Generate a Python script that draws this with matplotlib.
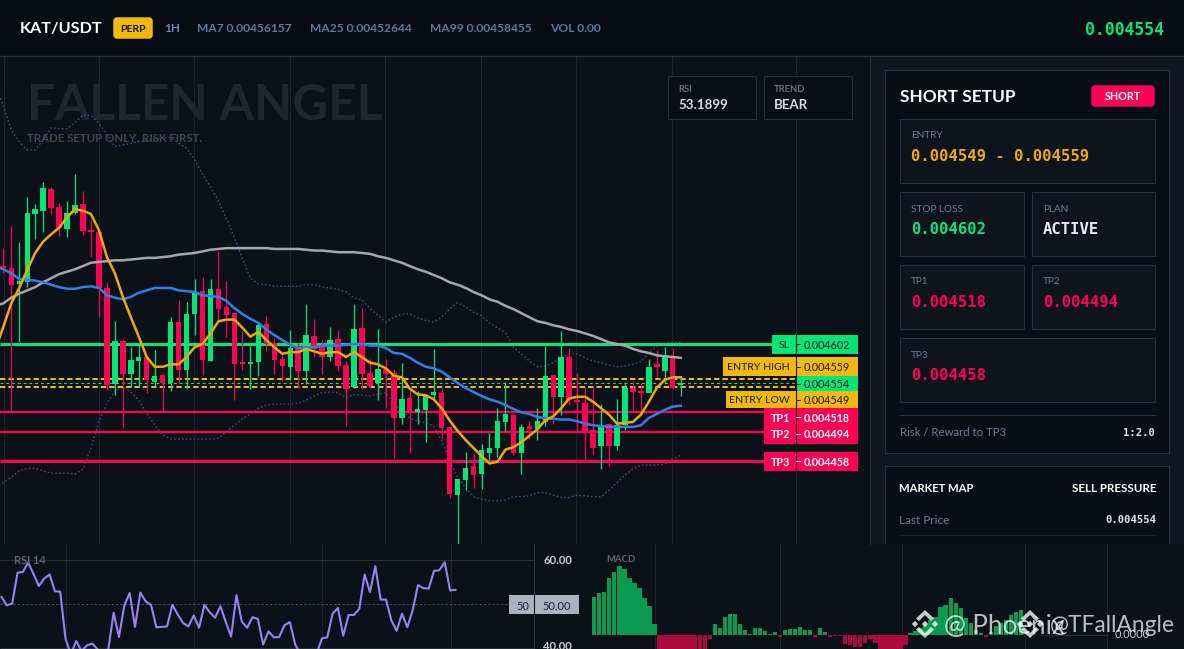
import matplotlib
matplotlib.use("Agg")
import matplotlib.pyplot as plt
from matplotlib.patches import Rectangle, FancyBboxPatch, Polygon

# ---------- values (prices in millionths of USDT) ----------
PRICE_UNIT = 1e-6
opens = [4698,4696,4676,4678,4762,4766,4793,4771,4744,4763,4774,4742,4740,4671,4553,4606,4565,4581,4586,4555,4564,4554,4629,4570,4639,4667,4581,4670,4648,4640,4580,4577,4580,4627,4603,4584,4574,4600,4569,4612,4598,4586,4608,4576,4549,4622,4566,4554,4571,4566,4511,4536,4518,4521,4539,4542,4500,4416,4435,4452,4442,4468,4474,4506,4515,4468,4501,4497,4506,4564,4537,4586,4533,4529,4496,4476,4504,4476,4502,4548,4544,4542,4577,4569,4586,4552]
closes = [4696,4675,4680,4763,4768,4794,4769,4745,4763,4773,4741,4740,4671,4552,4606,4565,4582,4586,4558,4563,4554,4629,4570,4639,4667,4582,4670,4645,4638,4577,4577,4580,4625,4602,4582,4575,4597,4569,4613,4596,4586,4607,4575,4547,4620,4565,4550,4571,4565,4511,4534,4518,4522,4538,4543,4499,4417,4436,4449,4441,4471,4474,4507,4516,4468,4500,4497,4507,4563,4537,4586,4533,4531,4494,4474,4501,4476,4502,4548,4543,4542,4574,4574,4586,4548,4554]
highs = [4720,4747,4728,4783,4774,4801,4795,4776,4778,4811,4790,4755,4744,4678,4630,4608,4598,4604,4586,4595,4566,4635,4656,4654,4682,4685,4682,4717,4680,4640,4617,4600,4628,4637,4609,4588,4619,4603,4651,4633,4608,4623,4619,4581,4651,4646,4584,4620,4584,4571,4579,4545,4544,4539,4596,4548,4500,4436,4469,4467,4479,4492,4523,4555,4515,4504,4507,4523,4600,4564,4618,4597,4566,4549,4549,4528,4505,4534,4555,4556,4554,4584,4595,4598,4596,4560]
lows = [4689,4521,4604,4672,4731,4740,4762,4735,4734,4762,4736,4709,4635,4545,4539,4499,4549,4549,4542,4549,4518,4544,4554,4547,4613,4564,4581,4630,4611,4533,4570,4547,4563,4593,4565,4556,4558,4548,4553,4586,4565,4581,4569,4501,4548,4547,4548,4533,4523,4462,4504,4468,4504,4481,4533,4485,4412,4356,4422,4425,4423,4459,4463,4495,4465,4442,4485,4484,4501,4504,4515,4527,4495,4460,4465,4448,4452,4471,4496,4521,4518,4542,4561,4554,4547,4538]
# moving averages and bands start one candle before the first visible candle
ma7 = [4595,4623,4652,4671,4693,4714,4728,4737,4745,4758,4768,4766,4762,4742,4709,4689,4660,4635,4611,4586,4574,4574,4577,4577,4586,4598,4602,4615,4630,4632,4632,4622,4611,4617,4607,4598,4590,4592,4592,4596,4593,4590,4592,4592,4586,4592,4586,4579,4577,4572,4563,4561,4547,4540,4539,4534,4523,4508,4495,4484,4474,4464,4455,4457,4472,4475,4481,4489,4497,4508,4513,4523,4535,4537,4537,4531,4523,4515,4504,4505,4506,4515,4531,4548,4558,4561,4561]
ma25 = [4698,4694,4689,4682,4681,4680,4678,4675,4672,4670,4670,4672,4673,4671,4662,4659,4657,4660,4665,4668,4671,4671,4671,4668,4667,4666,4662,4661,4660,4655,4646,4639,4633,4628,4620,4613,4607,4601,4597,4598,4598,4600,4600,4600,4601,4602,4602,4600,4600,4597,4591,4590,4585,4579,4574,4572,4568,4561,4554,4548,4543,4538,4534,4531,4527,4522,4518,4516,4512,4511,4510,4509,4509,4507,4504,4502,4501,4500,4500,4500,4500,4502,4511,4516,4521,4525,4526]
ma99 = [4649,4652,4659,4664,4668,4672,4678,4683,4688,4691,4694,4698,4702,4703,4704,4705,4705,4706,4707,4708,4708,4709,4710,4712,4713,4714,4716,4718,4719,4720,4720,4720,4720,4720,4720,4719,4719,4719,4719,4718,4717,4717,4716,4715,4715,4715,4714,4713,4710,4708,4705,4702,4698,4694,4691,4687,4683,4678,4675,4671,4666,4662,4657,4654,4649,4645,4640,4635,4630,4628,4625,4623,4620,4618,4615,4612,4608,4604,4602,4600,4596,4593,4591,4588,4587,4586,4585]
bb_upper = [4921,4895,4865,4851,4841,4841,4853,4868,4867,4867,4875,4884,4883,4874,4859,4845,4847,4849,4851,4852,4854,4856,4856,4849,4843,4829,4811,4795,4778,4756,4733,4707,4683,4676,4675,4673,4673,4673,4673,4675,4675,4672,4671,4669,4666,4659,4656,4646,4637,4629,4635,4639,4639,4634,4631,4629,4635,4645,4653,4648,4641,4637,4628,4622,4616,4598,4590,4581,4574,4575,4579,4585,4590,4590,4585,4581,4579,4576,4574,4575,4577,4580,4591,4600,4603,4604,4604]
bb_lower = [4425,4431,4438,4446,4449,4449,4446,4443,4443,4443,4442,4448,4474,4507,4529,4544,4549,4543,4533,4517,4502,4490,4485,4485,4485,4485,4485,4485,4486,4494,4502,4510,4516,4523,4527,4528,4528,4528,4529,4533,4538,4542,4543,4542,4536,4540,4539,4538,4540,4542,4528,4520,4511,4507,4505,4501,4483,4459,4438,4425,4414,4411,4409,4409,4410,4414,4414,4415,4419,4419,4416,4413,4413,4416,4415,4414,4414,4422,4431,4441,4448,4453,4453,4453,4454,4461,4465]
level_names = ["SL","ENTRY HIGH","ENTRY LOW","TP1","TP2","TP3"]
level_values = [4602,4559,4549,4518,4494,4458]
last_price = 4554
rsi_values = [51.6,49.7,50.1,57.1,57.3,59.4,56.8,54.1,55.8,56.7,52.9,52.8,42.0,38.6,41.6,39.3,40.6,41.0,39.7,38.6,39.7,48.0,42.5,49.7,52.5,44.8,52.6,50.6,49.8,44.7,44.8,44.9,49.8,47.6,45.7,44.9,47.4,44.6,49.8,48.1,46.9,49.5,45.9,42.6,52.0,46.0,44.6,47.0,46.6,40.8,43.8,42.4,42.5,45.2,45.9,40.8,38.6,38.2,38.2,38.6,42.2,42.4,47.8,49.1,42.8,47.5,47.5,48.9,56.7,52.7,58.6,51.0,51.0,46.3,43.9,47.8,44.7,48.6,54.3,53.6,53.5,57.5,57.7,59.5,53.1,53.2]
macd_hist = [114,125,129,172,190,207,198,172,156,141,111,87,33,-45,-45,-45,-45,-45,-45,-45,-45,-45,-45,-12,33,21,53,63,63,33,15,3,21,21,12,3,9,-6,15,18,18,24,15,15,-6,21,9,-6,-3,-3,-27,-30,-36,-36,-24,-12,-24,-42,-45,-45,-45,-45,-30,6,12,20,30,45,53,85,90,111,97,81,50,35,15,6,-6,8,27,35,45,60,70,75]

# ---------- styles ----------
W, H = 1184, 649
GREEN, RED, YELLOW = "#00e676", "#ff0055", "#f0b90b"
FONT = "Lato"
MONO = "DejaVu Sans Mono"
CHART_BG, HEAD_BG, SIDE_BG, PANEL_BG, CARD_BG = "#0b1119", "#070b14", "#0f1622", "#090d17", "#0e141e"
GRID, BORDER, MUTED = "#1c2431", "#263042", "#6b7d95"

fig = plt.figure(figsize=(W / 100, H / 100), dpi=100, facecolor=CHART_BG)

def pixel_axes(x0, y0, x1, y1, z):
    a = fig.add_axes([x0 / W, 1 - y1 / H, (x1 - x0) / W, (y1 - y0) / H], zorder=z)
    a.patch.set_alpha(0)
    a.set_xticks([]); a.set_yticks([])
    for s in a.spines.values():
        s.set_visible(False)
    return a

bg = pixel_axes(0, 0, W, H, 0); bg.set_xlim(0, W); bg.set_ylim(H, 0)
ov = pixel_axes(0, 0, W, H, 5); ov.set_xlim(0, W); ov.set_ylim(H, 0)

def box(a, x0, y0, x1, y1, fc, ec="none", lw=1, z=1):
    a.add_patch(Rectangle((x0, y0), x1 - x0, y1 - y0, fc=fc, ec=ec, lw=lw * 0.72, zorder=z))

def txt(a, x, y, s, size, color, ha="left", family=FONT, weight="normal", z=6, alpha=None):
    a.text(x, y, s, fontsize=size * 0.72, color=color, ha=ha, va="center_baseline", family=family,
           weight=weight, zorder=z, alpha=alpha)

# ---------- chrome ----------
box(bg, 0, 0, W, 55, HEAD_BG)
bg.plot([0, W], [55.5, 55.5], color=BORDER, lw=0.72, zorder=2)
box(bg, 870, 56, W, 544, SIDE_BG)
bg.plot([870, 870], [56, 544], color=BORDER, lw=0.72, zorder=2)
for gx in [4, 99, 194, 290, 385, 481, 576, 672, 796]:
    bg.plot([gx, gx], [56, 543], color=GRID, lw=0.72, zorder=0.5)
txt(bg, 27, 102, "FALLEN ANGEL", 49.5, "#1f2630", weight="bold")
txt(bg, 27, 137, "TRADE SETUP ONLY. RISK FIRST.", 11.5, "#3f4754", weight="bold")

txt(ov, 20, 27, "KAT/USDT", 16.2, "white", weight="bold")
ov.add_patch(FancyBboxPatch((115, 19), 36, 18, boxstyle="round,pad=0,rounding_size=2", fc=YELLOW, ec=YELLOW, lw=2.5))
txt(ov, 133, 28, "PERP", 10.4, "#111111", ha="center", weight="bold")
txt(ov, 164, 27, "1H", 11.7, "#6f88a6", weight="bold")
for hx, hs in [(197, "MA7 0.00456157"), (310, "MA25 0.00452644"), (430, "MA99 0.00458455"), (550, "VOL 0.00")]:
    txt(ov, hx, 28, hs, 12, "#5f7a9c", weight="bold")
txt(ov, 1164, 28, "0.004554", 16.5, GREEN, ha="right", family=MONO, weight="bold")

for bx0, bx1, lab, val in [(668, 756, "RSI", "53.1899"), (764, 852, "TREND", "BEAR")]:
    box(ov, bx0, 76, bx1, 119, "#0a0f17", BORDER, z=2)
    txt(ov, bx0 + 10, 89, lab, 9.5, "#66707e", weight="bold")
    txt(ov, bx0 + 10, 104, val, 13.4, "#d5dde5", weight="bold")

# ---------- right panel ----------
box(bg, 885, 70, 1169, 453, PANEL_BG, BORDER, z=1)
box(bg, 885, 466, 1169, 544, PANEL_BG, BORDER, z=1)
txt(bg, 900, 96, "SHORT SETUP", 17.2, "white", weight="bold")
bg.add_patch(FancyBboxPatch((1093, 87), 60, 18, boxstyle="round,pad=0,rounding_size=2", fc=RED, ec=RED, lw=2.5, zorder=2))
txt(bg, 1123, 96, "SHORT", 10.7, "white", ha="center", weight="bold")
cards = [
    (900, 119, 1155, 183, "ENTRY", "0.004549 - 0.004559", "#f0a90b", 15.5),
    (900, 192, 1024, 256, "STOP LOSS", "0.004602", GREEN, 15.5),
    (1032, 192, 1155, 256, "PLAN", "ACTIVE", "#e4eef8", 15.5),
    (900, 265, 1024, 329, "TP1", "0.004518", RED, 15.5),
    (1032, 265, 1155, 329, "TP2", "0.004494", RED, 15.5),
    (900, 338, 1155, 402, "TP3", "0.004458", RED, 15.5),
]
for x0, y0, x1, y1, lab, val, col, fs in cards:
    box(bg, x0, y0, x1, y1, CARD_BG, BORDER, z=2)
    txt(bg, x0 + 11, y0 + 16, lab, 10, MUTED)
    txt(bg, x0 + 11, y0 + 36, val, fs, col, family=MONO, weight="bold")
bg.plot([900, 1155], [414.5, 414.5], color=BORDER, lw=0.72, zorder=2)
txt(bg, 900, 432, "Risk / Reward to TP3", 11.4, MUTED)
txt(bg, 1155, 432, "1:2.0", 10.5, "#dfe6ee", ha="right", family=MONO, weight="bold")
txt(bg, 899, 487, "MARKET MAP", 11.2, "white", weight="bold")
txt(bg, 1156, 487, "SELL PRESSURE", 11.6, "white", ha="right", weight="bold")
txt(bg, 899, 519, "Last Price", 11.8, MUTED)
txt(bg, 1156, 519, "0.004554", 10.5, "#dfe6ee", ha="right", family=MONO, weight="bold")
bg.plot([899, 1156], [534.5, 534.5], color="#182030", lw=0.72, zorder=2)
box(bg, 880, 544, W, H, CHART_BG, z=3)

# ---------- main price chart ----------
px_per_candle = 7.97
ax = pixel_axes(0, 56, 870, 544, 2)
ax.set_xlim((0 - 3.3) / px_per_candle, (870 - 3.3) / px_per_candle)
ax.set_ylim(4602 - 200 * 1.2308, 4602 + 288 * 1.2308)
idx = list(range(len(opens)))
idx_ma = list(range(-1, len(opens)))
right_edge = (796 - 3.3) / px_per_candle
left_edge = ax.get_xlim()[0]

ax.plot(idx_ma, bb_upper, color="#4a4585", lw=1.0, ls=(0, (1.2, 1.6)), zorder=1)
ax.plot(idx_ma, bb_lower, color="#4a4585", lw=1.0, ls=(0, (1.2, 1.6)), zorder=1)

level_styles = {"SL": (GREEN, 2.2, "-"), "ENTRY HIGH": (YELLOW, 1.44, (0, (2.7, 1.5))),
                "ENTRY LOW": (YELLOW, 1.44, (0, (2.7, 1.5))), "TP1": (RED, 1.6, "-"),
                "TP2": (RED, 1.6, "-"), "TP3": (RED, 2.2, "-")}
for name, val in zip(level_names, level_values):
    c, lw, ls = level_styles[name]
    ax.hlines(val, left_edge, right_edge, color=c, lw=lw, linestyles=[ls], zorder=2)
ax.hlines(last_price, left_edge, right_edge, color=GREEN, lw=0.8, linestyles=[(0, (2.6, 2.6))], zorder=2)

colors = [GREEN if c >= o else RED for o, c in zip(opens, closes)]
ax.vlines(idx, lows, highs, colors=colors, lw=0.9, zorder=3)
ax.bar(idx, [max(abs(c - o), 1.5) for o, c in zip(opens, closes)], bottom=[min(o, c) for o, c in zip(opens, closes)],
       width=0.68, color=colors, linewidth=0, zorder=3)

ax.plot(idx_ma, ma99, color="#a3a7b3", lw=1.8, zorder=4)
ax.plot(idx_ma, ma25, color="#2f7fe6", lw=1.8, zorder=4)
ax.plot(idx_ma, ma7, color="#f0a90b", lw=1.8, zorder=4)

# ---------- price tags ----------
def price_text(v):
    return f"{v * PRICE_UNIT:.6f}"

DARK = "#10202a"
tags = [("SL", 772, 335, 354, GREEN, DARK, 4602), ("ENTRY HIGH", 723, 357, 376, YELLOW, "#1a1a10", 4559),
        ("ENTRY LOW", 726, 391, 408, YELLOW, "#1a1a10", 4549)]
box(ov, 796, 376, 858, 392, GREEN, z=2)
for name, x0, y0, y1, fc, tc, val in tags:
    box(ov, x0, y0, 858, y1, fc, z=2)
    txt(ov, 790, (y0 + y1) / 2, name, 10.5, tc, ha="right")
    txt(ov, 827, (y0 + y1) / 2, price_text(val), 10.8, tc, ha="center")
txt(ov, 827, 384, price_text(last_price), 10.8, DARK, ha="center")
box(ov, 764, 408, 858, 444, RED, z=2)
box(ov, 764, 452, 858, 471, RED, z=2)
for name, yy, val in [("TP1", 417, 4518), ("TP2", 434, 4494), ("TP3", 461, 4458)]:
    txt(ov, 790, yy, name, 10.8, "white", ha="right", weight="bold")
    txt(ov, 827, yy, price_text(val), 10.8, "white", ha="center", weight="bold")
ov.plot([796, 796], [335, 471], color="#0b1119", lw=0.8, zorder=3)
for ty in [344, 366.5, 384, 399.5]:
    ov.plot([796, 800], [ty, ty], color="#10202a", lw=0.7, zorder=7)
for ty in [417, 434, 461]:
    ov.plot([796, 800], [ty, ty], color="white", lw=0.7, zorder=7)

# ---------- RSI panel ----------
rsi = pixel_axes(0, 544, 534, H, 2)
rsi.set_xlim((0 - 1.5) / 5.34, (534 - 1.5) / 5.34)
rsi.set_ylim(50 - (H - 604) / 4.4, 50 + (604 - 544) / 4.4)
for gx in [66, 194, 322, 451]:
    bg.plot([gx, gx], [544, H], color=GRID, lw=0.72, zorder=0.5)
rsi.hlines([60, 40], *rsi.get_xlim(), color="#232c3a", lw=0.8, zorder=1)
rsi.hlines(50, *rsi.get_xlim(), color="#4a5361", lw=0.7, linestyles=[(0, (2.4, 2))], zorder=1)
rsi.plot(range(len(rsi_values)), rsi_values, color="#9c7ff2", lw=1.5, zorder=3)
bg.plot([534, 534], [544, H], color="#2a3342", lw=0.72, zorder=2)
txt(ov, 14, 559, "RSI 14", 11, "#5d6672", weight="bold")
txt(ov, 543, 560, "60.00", 11.4, "#c6ced8", weight="bold")
txt(ov, 543, 646, "40.00", 11.4, "#c6ced8", weight="bold")
box(ov, 509, 595, 579, 614, "#a9b4c0", z=2)
ov.plot([534, 534], [595, 614], color="#0b1119", lw=0.8, zorder=3)
txt(ov, 523, 605, "50", 11, "#1b2430", ha="center")
txt(ov, 557, 605, "50.00", 11, "#1b2430", ha="center")

# ---------- MACD panel ----------
macd = pixel_axes(590, 544, 1107, H, 2)
macd.set_xlim((590 - 594.25) / 5.02, (1107 - 594.25) / 5.02)
macd.set_ylim(-(H - 635) * 3, (635 - 544) * 3)
for gx in [655, 780, 902, 1025, 1107]:
    bg.plot([gx, gx], [544, H], color=GRID, lw=0.72, zorder=3.5)
macd.bar(range(len(macd_hist)), macd_hist, width=0.86, linewidth=0,
         color=["#0b9a50" if v >= 0 else "#ad0a40" for v in macd_hist], zorder=3)
macd.axhline(0, xmin=0.87, color="#232c3a", lw=0.8, zorder=1)
txt(ov, 606, 559, "MACD", 9.6, "#5d6672", weight="bold")
txt(ov, 1115, 634, "0.0000", 11, "#c6ced8")

# ---------- watermark ----------
def logo(cx, cy, s=1.0):
    wm = dict(fc="white", ec="none", alpha=0.78, zorder=8)
    for dx, dy in [(-10, 0), (10, 0), (0, 0)]:
        r = 3.2
        ov.add_patch(Polygon([(cx + dx * s, cy + (dy - r) * s), (cx + (dx + r) * s, cy + dy * s),
                              (cx + dx * s, cy + (dy + r) * s), (cx + (dx - r) * s, cy + dy * s)], **wm))
    for sgn in (-1, 1):
        ov.add_patch(Polygon([(cx, cy + sgn * 14 * s), (cx + 9 * s, cy + sgn * 5.5 * s), (cx + 6 * s, cy + sgn * 3 * s),
                              (cx, cy + sgn * 9 * s), (cx - 6 * s, cy + sgn * 3 * s), (cx - 9 * s, cy + sgn * 5.5 * s)], **wm))

logo(925, 624)
logo(1030, 624)
txt(ov, 944, 624, "@ Phoenix", 26, "white", z=8, alpha=0.72)
txt(ov, 1050, 624, "@TFallAngle", 22.7, "white", z=8, alpha=0.72)

fig.savefig("out.png", dpi=100, facecolor=fig.get_facecolor())
